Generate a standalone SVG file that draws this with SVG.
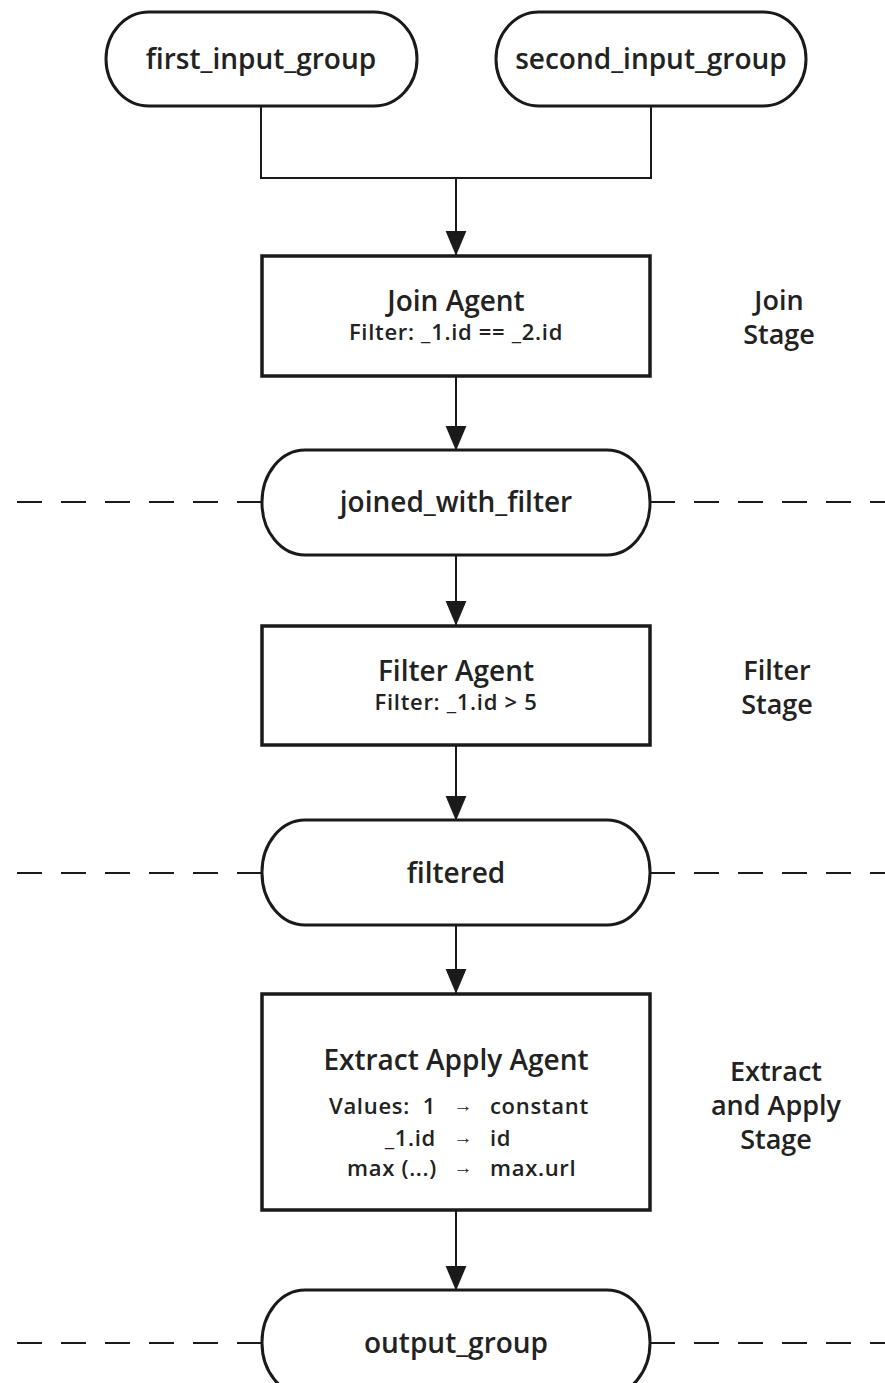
<svg xmlns="http://www.w3.org/2000/svg" width="885" height="1383" viewBox="0 0 885 1383">
  <style>
    .pill { fill: #fff; stroke: #1a1a1a; stroke-width: 3; }
    .box { fill: #fff; stroke: #1a1a1a; stroke-width: 3.5; }
    .edge { fill: none; stroke: #1a1a1a; stroke-width: 2; }
    .dash { fill: none; stroke: #1a1a1a; stroke-width: 2; stroke-dasharray: 25 19; }
    text { font-family: "Open Sans", "Liberation Sans", sans-serif; font-weight: 600; fill: #222; text-anchor: middle; }
    .t { font-size: 28px; }
    .g { font-size: 27px; }
    .s { font-size: 22px; letter-spacing: 0.7px; }
    .a { font-size: 19px; }
    .end { text-anchor: end; }
    .start { text-anchor: start; }
  </style>
  <defs>
    <marker id="arr" markerUnits="userSpaceOnUse" markerWidth="26" markerHeight="32" refX="30" refY="13" orient="auto" viewBox="0 0 32 26">
      <path d="M0,0 L31,13 L0,26 Z" fill="#1a1a1a"/>
    </marker>
  </defs>

  <!-- stage separators -->
  <g id="separators">
    <path class="dash" d="M262,502 H0"/>
    <path class="dash" d="M650,502 H885"/>
    <path class="dash" d="M262,873 H0"/>
    <path class="dash" d="M650,873 H885"/>
    <path class="dash" d="M262,1343 H0"/>
    <path class="dash" d="M650,1343 H885"/>
  </g>

  <!-- connectors -->
  <g id="connectors">
    <path class="edge" d="M261,106 V178 H651 V106"/>
    <path class="edge" d="M456,178 V255" marker-end="url(#arr)"/>
    <path class="edge" d="M456,377 V450" marker-end="url(#arr)"/>
    <path class="edge" d="M456,555 V625" marker-end="url(#arr)"/>
    <path class="edge" d="M456,746 V820" marker-end="url(#arr)"/>
    <path class="edge" d="M456,925 V993" marker-end="url(#arr)"/>
    <path class="edge" d="M456,1211 V1290" marker-end="url(#arr)"/>
  </g>

  <g id="first_input_group">
    <rect class="pill" x="106" y="12" width="311" height="94" rx="43" ry="47"/>
    <text class="t" x="261" y="69">first_input_group</text>
  </g>

  <g id="second_input_group">
    <rect class="pill" x="496" y="12" width="310" height="94" rx="43" ry="47"/>
    <text class="t" x="651" y="69">second_input_group</text>
  </g>

  <g id="join_agent">
    <rect class="box" x="262" y="256" width="388" height="120"/>
    <text class="t" x="456" y="311">Join Agent</text>
    <text class="s" x="456" y="340">Filter: _1.id == _2.id</text>
  </g>
  <g id="join_stage">
    <text class="g" x="779" y="310">Join<tspan x="779" dy="34">Stage</tspan></text>
  </g>

  <g id="joined_with_filter">
    <rect class="pill" x="262" y="450" width="388" height="105" rx="43" ry="52"/>
    <text class="t" x="456" y="512">joined_with_filter</text>
  </g>

  <g id="filter_agent">
    <rect class="box" x="262" y="626" width="388" height="119"/>
    <text class="t" x="456" y="681">Filter Agent</text>
    <text class="s" x="456" y="710">Filter: _1.id &gt; 5</text>
  </g>
  <g id="filter_stage">
    <text class="g" x="777" y="680">Filter<tspan x="777" dy="34">Stage</tspan></text>
  </g>

  <g id="filtered">
    <rect class="pill" x="262" y="820" width="388" height="105" rx="43" ry="52"/>
    <text class="t" x="456" y="883">filtered</text>
  </g>

  <g id="extract_apply_agent">
    <rect class="box" x="262" y="994" width="388" height="216"/>
    <text class="t" x="456" y="1070">Extract Apply Agent</text>
    <text class="s end" x="436" y="1114">Values:&#160; 1</text>
    <text class="a" x="463" y="1112">→</text>
    <text class="s start" x="490" y="1114">constant</text>
    <text class="s end" x="436" y="1146">_1.id</text>
    <text class="a" x="463" y="1144">→</text>
    <text class="s start" x="490" y="1146">id</text>
    <text class="s end" x="437" y="1176">max (...)</text>
    <text class="a" x="463" y="1174">→</text>
    <text class="s start" x="490" y="1176">max.url</text>
  </g>
  <g id="extract_apply_stage">
    <text class="g" x="776" y="1081">Extract<tspan x="776" dy="34">and Apply</tspan><tspan x="776" dy="34">Stage</tspan></text>
  </g>

  <g id="output_group">
    <rect class="pill" x="262" y="1290" width="388" height="105" rx="43" ry="52"/>
    <text class="t" x="456" y="1353">output_group</text>
  </g>
</svg>
